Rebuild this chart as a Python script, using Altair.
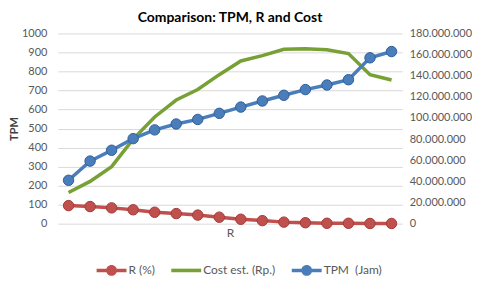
import altair as alt
import pandas as pd

# ---- data ----
idx = list(range(1, 17))
tpm = [228, 329, 386, 447, 493, 524, 548, 580, 613, 645, 675, 705, 729, 757, 872, 905]
r_pct = [95, 90, 83, 73, 60, 53, 45, 34, 23, 16, 8, 5, 2, 2, 1, 1]
cost = [29.5e6, 40e6, 54e6, 80e6, 101e6, 117e6, 127e6, 141e6, 154e6, 159e6,
        165e6, 165.5e6, 164.5e6, 161e6, 141e6, 136e6]
series = ["R (%)", "Cost est. (Rp.)", "TPM\u00a0 (Jam)"]
left_ticks = list(range(0, 1001, 100))
right_ticks = list(range(0, 180000001, 20000000))

df = pd.DataFrame({"idx": idx, "TPM": tpm, "R": r_pct, "Cost": cost})
leg_df = pd.DataFrame({"series": series})

RED, GREEN, BLUE = "#C0504D", "#77A035", "#4A7EBB"
FONT = "Lato"
TXT = "#595959"

xenc = alt.X("idx:Q", scale=alt.Scale(domain=[0.5, 16.5], nice=False, zero=False),
             axis=alt.Axis(title="R", labels=False, ticks=False, domain=False, grid=False,
                           titleFontWeight="normal", titleFontSize=12, titleColor=TXT,
                           titlePadding=4))

base = alt.Chart(df)

r_layer = base.mark_line(color=RED, strokeWidth=3.5, point=alt.OverlayMarkDef(
    filled=True, fill=RED, stroke="#A33A37", strokeWidth=1, size=110, opacity=1)).encode(
    x=xenc,
    y=alt.Y("R:Q", scale=alt.Scale(domain=[0, 1000], nice=False), axis=None),
)

cost_layer = base.mark_line(color=GREEN, strokeWidth=3.5).encode(
    x=xenc,
    y=alt.Y("Cost:Q", scale=alt.Scale(domain=[0, 180000000], nice=False),
            axis=alt.Axis(orient="right", title=None, values=right_ticks, grid=False,
                          ticks=False, domain=False, labelPadding=7,
                          labelExpr="replace(format(datum.value, ','), regexp(',', 'g'), '.')")),
)

tpm_layer = base.mark_line(color=BLUE, strokeWidth=3.5, point=alt.OverlayMarkDef(
    filled=True, fill=BLUE, stroke="#2F5F9A", strokeWidth=1, size=110, opacity=1)).encode(
    x=xenc,
    y=alt.Y("TPM:Q", scale=alt.Scale(domain=[0, 1000], nice=False),
            axis=alt.Axis(title="TPM", values=left_ticks, format="d", grid=True,
                          gridColor="#D9D9D9", ticks=False, domain=False, labelPadding=11,
                          titlePadding=2, titleFontWeight="bold", titleFontSize=11,
                          titleColor="#404040")),
)

bar = "M-1,-0.12L1,-0.12L1,0.12L-1,0.12Z"
line_circle = bar + "M-0.36,0A0.36,0.36,0,1,1,0.36,0A0.36,0.36,0,1,1,-0.36,0Z"
leg = alt.Legend(title=None, orient="none", legendX=39, legendY=223, direction="horizontal",
                 symbolSize=900, labelFontSize=12, labelColor=TXT, labelFont=FONT,
                 labelOffset=2, columnPadding=16, symbolStrokeWidth=0)

legend_layer = alt.Chart(leg_df).mark_point(filled=True, clip=True, opacity=1).encode(
    x=alt.value(10),
    y=alt.value(-200),
    color=alt.Color("series:N", scale=alt.Scale(domain=series, range=[RED, GREEN, BLUE]),
                    legend=leg, sort=series),
    shape=alt.Shape("series:N", scale=alt.Scale(domain=series,
                                                range=[line_circle, bar, line_circle]),
                    legend=leg, sort=series),
)

chart = alt.layer(r_layer, cost_layer, tpm_layer, legend_layer).resolve_scale(
    y="independent"
).properties(
    width=346, height=191,
    padding={"left": 0, "right": 0, "top": 2, "bottom": 0},
    title=alt.TitleParams("Comparison: TPM, R and Cost", fontSize=14, fontWeight="bold",
                          font=FONT, color="#000000", offset=3, anchor="middle"),
).configure_view(stroke=None).configure_axis(
    labelFont=FONT, titleFont=FONT, labelFontSize=11, labelColor=TXT
)

chart.save("out.html", embed_options={"renderer": "svg", "actions": False})
